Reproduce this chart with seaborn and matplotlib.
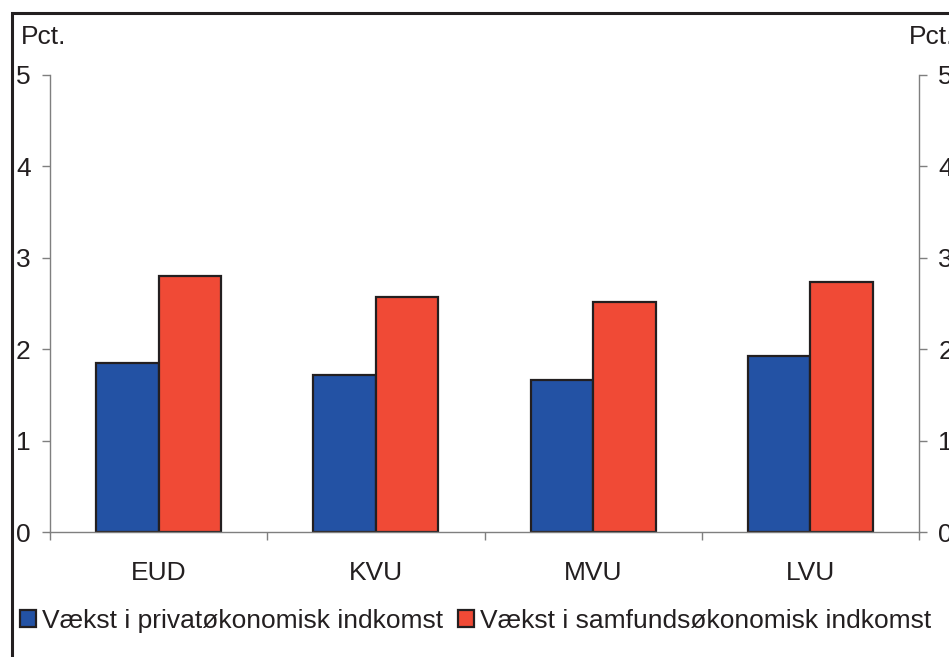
import matplotlib
matplotlib.use("Agg")
import matplotlib.pyplot as plt
import matplotlib.patches as mpatches
import seaborn as sns
import pandas as pd

categories = ["EUD", "KVU", "MVU", "LVU"]
series_names = ["Vækst i privatøkonomisk indkomst", "Vækst i samfundsøkonomisk indkomst"]
privat = [1.85, 1.72, 1.66, 1.93]
samfund = [2.80, 2.57, 2.52, 2.73]
yticks = [0, 1, 2, 3, 4, 5]

blue = "#2352A4"
red = "#F04A36"
edge = "#231F20"
spine_col = "#7F7F7F"
FS = 19

df = pd.DataFrame({
    "cat": categories * 2,
    "val": privat + samfund,
    "series": [series_names[0]] * 4 + [series_names[1]] * 4,
})

sns.set_style("white")
plt.rcParams["font.family"] = ["Liberation Sans", "DejaVu Sans"]

fig = plt.figure(figsize=(9.49, 6.57), dpi=100)
ax = fig.add_axes([50 / 949, 1 - 532 / 657, (919 - 50) / 949, (532 - 75) / 657])

sns.barplot(data=df, x="cat", y="val", hue="series", order=categories,
            hue_order=series_names, palette=[blue, red], width=0.575,
            saturation=1, edgecolor=edge, linewidth=1.6, ax=ax, legend=False,
            errorbar=None)

ax.set_xlim(-0.5, 3.5)
ax.set_ylim(0, 5)
ax.set_yticks(yticks)
ax.set_yticklabels([str(t) for t in yticks])
ax.set_xlabel("")
ax.set_ylabel("")

ax.spines["top"].set_visible(False)
for s in ["left", "right", "bottom"]:
    ax.spines[s].set_visible(True)
    ax.spines[s].set_color(spine_col)
    ax.spines[s].set_linewidth(1.0)

ax.tick_params(axis="y", which="major", left=True, right=True, labelleft=True,
               labelright=True, direction="out", length=6, width=1.0,
               color=spine_col, labelsize=FS, labelcolor=edge, pad=8)
ax.tick_params(axis="x", which="major", length=0, labelsize=FS,
               labelcolor=edge, pad=21)
ax.set_xticks([-0.5, 0.5, 1.5, 2.5, 3.5], minor=True)
ax.tick_params(axis="x", which="minor", bottom=True, direction="out",
               length=6, width=1.0, color=spine_col)

fig.text(21 / 949, 1 - 37 / 657, "Pct.", fontsize=FS, color=edge, va="center", ha="left")
fig.text(909 / 949, 1 - 37 / 657, "Pct.", fontsize=FS, color=edge, va="center", ha="left")

handles = [mpatches.Patch(facecolor=blue, edgecolor=edge, linewidth=1.6),
           mpatches.Patch(facecolor=red, edgecolor=edge, linewidth=1.6)]
fig.legend(handles, series_names, loc="center left",
           bbox_to_anchor=(20 / 949, 1 - 621 / 657), ncol=2, frameon=False,
           fontsize=FS, handlelength=0.62, handleheight=0.62,
           handletextpad=0.22, columnspacing=0.55, borderpad=0,
           labelcolor=edge, borderaxespad=0)

border = mpatches.Rectangle((12 / 949, -0.1), 1.2, 1 - 13 / 657 + 0.1,
                            transform=fig.transFigure, fill=False,
                            edgecolor=edge, linewidth=2.2, clip_on=False)
fig.patches.append(border)

fig.savefig("out.png", dpi=100)
